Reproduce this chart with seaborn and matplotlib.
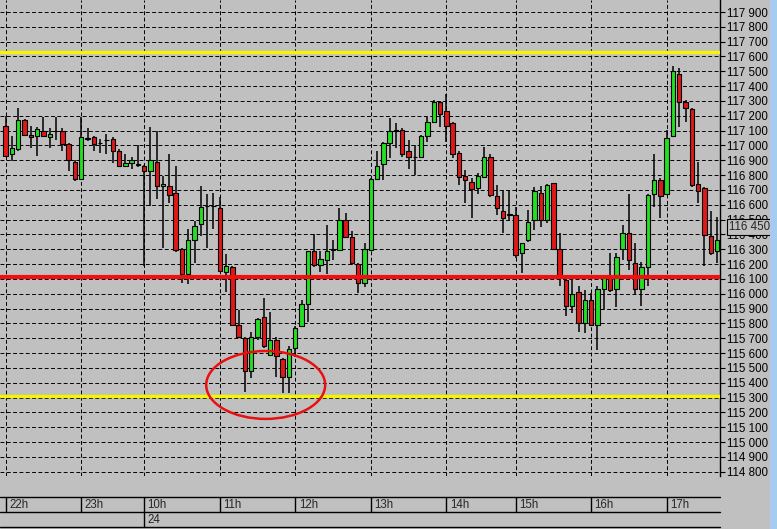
import numpy as np
import matplotlib
matplotlib.use('Agg')
import matplotlib.pyplot as plt
import seaborn as sns
from matplotlib.patches import Ellipse, Rectangle
from matplotlib.transforms import blended_transform_factory
from matplotlib.ticker import FuncFormatter

# --- 5-minute bars ---
opens = [117130, 116940, 116975, 117170, 117070, 117065, 117100, 117055, 117095, 117100,
         117010, 116890, 116775, 117045, 117055, 117020, 117035, 117045, 116965, 116860,
         116885, 116870, 116860, 116830, 116890, 116725, 116725, 116680, 116305, 116130,
         116365, 116470, 116590, 116595, 116580, 116150, 116180, 115790, 115705, 115480,
         115710, 115840, 115590, 115690, 115560, 115440, 115635, 115780, 115930, 116285,
         116195, 116225, 116295, 116295, 116500, 116380, 116200, 116070, 116295, 116775,
         116875, 117015, 117100, 117105, 116960, 116925, 116925, 117065, 117155, 117295,
         117235, 117150, 116950, 116795, 116755, 116710, 116790, 116925, 116660, 116555,
         116530, 116530, 116275, 116365, 116495, 116680, 116495, 116745, 116300, 116095,
         115915, 116010, 115800, 115960, 115790, 116035, 116115, 116035, 116305, 116410,
         116205, 116035, 116180, 116675, 116765, 116675, 117065, 117485, 117295, 117245,
         116740, 116715, 116390, 116285]
highs = [117200, 117065, 117250, 117180, 117130, 117125, 117190, 117120, 117190, 117120,
         117020, 116905, 117190, 117115, 117065, 117045, 117075, 117055, 116975, 116940,
         116920, 117000, 116865, 117125, 117100, 116795, 116945, 116860, 116310, 116435,
         116490, 116725, 116670, 116680, 116650, 116265, 116190, 115890, 115710, 115745,
         115835, 115970, 115875, 115710, 115565, 115645, 115780, 115955, 116290, 116405,
         116285, 116465, 116365, 116575, 116545, 116425, 116210, 116345, 116780, 116960,
         117025, 117185, 117150, 117115, 117035, 117005, 117070, 117190, 117305, 117300,
         117350, 117155, 116960, 116835, 116780, 116815, 116990, 116940, 116735, 116700,
         116700, 116585, 116345, 116565, 116720, 116730, 116740, 116750, 116410, 116105,
         116095, 116050, 116025, 116005, 116050, 116125, 116275, 116275, 116465, 116675,
         116340, 116215, 116675, 116940, 116780, 117105, 117535, 117520, 117305, 117255,
         116890, 116720, 116555, 116520]
lows = [116920, 116895, 116965, 117065, 116985, 116930, 117055, 116985, 117040, 116965,
        116830, 116760, 116770, 117030, 116965, 116950, 116940, 116880, 116855, 116855,
        116840, 116855, 116190, 116595, 116640, 116310, 116615, 116280, 116075, 116065,
        116210, 116390, 116310, 116435, 116145, 116015, 115780, 115700, 115340, 115430,
        115690, 115635, 115580, 115440, 115330, 115330, 115575, 115775, 115810, 116180,
        116145, 116135, 116225, 116285, 116375, 116195, 116005, 116045, 116285, 116770,
        116770, 116915, 116980, 116920, 116840, 116800, 116920, 117025, 117150, 117125,
        117025, 116915, 116735, 116610, 116510, 116675, 116785, 116655, 116530, 116410,
        116495, 116240, 116140, 116350, 116430, 116450, 116475, 116295, 116050, 115850,
        115870, 115745, 115735, 115780, 115620, 115900, 116015, 115910, 116230, 116160,
        115990, 115915, 116050, 116585, 116510, 116665, 117060, 117125, 117160, 116720,
        116615, 116185, 116260, 116205]
closes = [116930, 116985, 117175, 117070, 117055, 117110, 117065, 117080, 117100, 117010,
          116900, 116775, 117055, 117050, 117010, 117015, 117040, 116965, 116860, 116880,
          116900, 116875, 116830, 116905, 116725, 116740, 116665, 116295, 116130, 116365,
          116460, 116585, 116595, 116590, 116155, 116190, 115790, 115710, 115480, 115710,
          115830, 115645, 115690, 115580, 115440, 115625, 115770, 115930, 116285, 116195,
          116235, 116290, 116300, 116495, 116385, 116205, 116070, 116305, 116775, 116860,
          117015, 117095, 117105, 116945, 116925, 116920, 117065, 117155, 117295, 117215,
          117130, 116945, 116785, 116765, 116705, 116795, 116925, 116665, 116575, 116510,
          116535, 116260, 116340, 116485, 116695, 116495, 116735, 116300, 116115, 115920,
          115995, 115800, 115960, 115790, 116030, 116105, 116025, 116245, 116410, 116230,
          116035, 116180, 116665, 116765, 116660, 117050, 117500, 117295, 117255, 116735,
          116695, 116395, 116275, 116365]

hour_idx = [0, 12, 22, 34, 46, 58, 70, 81, 93, 105]
hour_labels = ['22h', '23h', '10h', '11h', '12h', '13h', '14h', '15h', '16h', '17h']
date_idx = 22
date_label = '24'

resistance = 117630
support = 115310
pivot = 116110
last_price = 116450

BG = '#C0C0C0'
sns.set_theme(style='white', rc={'axes.facecolor': BG, 'figure.facecolor': BG,
                                 'savefig.facecolor': BG})
plt.rcParams['font.family'] = ['Liberation Sans', 'DejaVu Sans']
FS = 8.3

x = np.arange(len(opens))
o = np.array(opens)
c = np.array(closes)
colors = np.where(c >= o, '#22E022', '#E01818')

fig = plt.figure(figsize=(7.77, 5.29), dpi=100)
W, H = 777, 529
ax = fig.add_axes([0, 1 - 476 / H, 720 / W, 476 / H])

step = 6.295
ax.set_xlim(-5.7 / step, (720 - 5.7) / step)
ax.set_ylim(114771, 117981)

# grid: dashed, hour separators + every 100 points
dash = (0, (4, 2.5))
ax.set_axisbelow(True)
ax.set_xticks(hour_idx)
ax.set_yticks(np.arange(114800, 117901, 100))
ax.grid(True, color='black', linestyle=dash, linewidth=0.7)
ax.tick_params(axis='x', length=0, labelbottom=False)
ax.yaxis.tick_right()
ax.tick_params(axis='y', direction='out', length=3.6, width=0.8, pad=1.5,
               labelsize=FS, colors='black')
ax.yaxis.set_major_formatter(FuncFormatter(lambda v, _: f'{v:,.0f}'.replace(',', ' ')))
for s in ['left', 'top', 'bottom']:
    ax.spines[s].set_visible(False)
ax.spines['right'].set_color('black')
ax.spines['right'].set_linewidth(1)

# candles
ax.vlines(x, lows, highs, color='black', linewidth=1.1, zorder=2)
ax.bar(x, np.abs(c - o), bottom=np.minimum(o, c), width=0.7, color=colors,
       edgecolor='black', linewidth=0.8, zorder=3)

# levels
ax.axhline(resistance, color='#F5F500', linewidth=2.4, zorder=4)
ax.axhline(support, color='#F5F500', linewidth=2.4, zorder=4)
ax.axhline(pivot, color='#F01010', linewidth=3, zorder=4)

# hand-drawn circle around the lows
ax.add_patch(Ellipse((41.3, 115385), width=18.9, height=458, fill=False,
                     edgecolor='#E81010', linewidth=1.8, zorder=5))

# current price box
tr = blended_transform_factory(ax.transAxes, ax.transData)
ax.text(1 + 9 / 720, last_price, '116 450', transform=tr, va='center', ha='left',
        fontsize=FS, zorder=10, clip_on=False,
        bbox=dict(boxstyle='square,pad=0.15', fc=BG, ec='black', lw=0.8))

# time scale rows
ax_t = fig.add_axes([0, 2 / H, 720 / W, 30 / H])
ax_t.set_xlim(ax.get_xlim())
ax_t.set_ylim(0, 2)
ax_t.axis('off')
for yy in [0, 1, 2]:
    ax_t.axhline(yy, color='black', linewidth=1, clip_on=False)
ax_t.vlines(hour_idx, 1, 2, color='black', linewidth=1)
ax_t.vlines([date_idx], 0, 1, color='black', linewidth=1)
for i, lab in zip(hour_idx, hour_labels):
    ax_t.text(i + 0.55, 1.48, lab, va='center', ha='left', fontsize=FS)
ax_t.text(date_idx + 0.5, 0.48, date_label, va='center', ha='left', fontsize=FS)

# window border strip on the right
fig.add_artist(Rectangle((770 / W, 0), 7 / W, 1, transform=fig.transFigure,
                         facecolor='#A6CAF0', edgecolor='none'))

fig.savefig('out.png', dpi=100)
